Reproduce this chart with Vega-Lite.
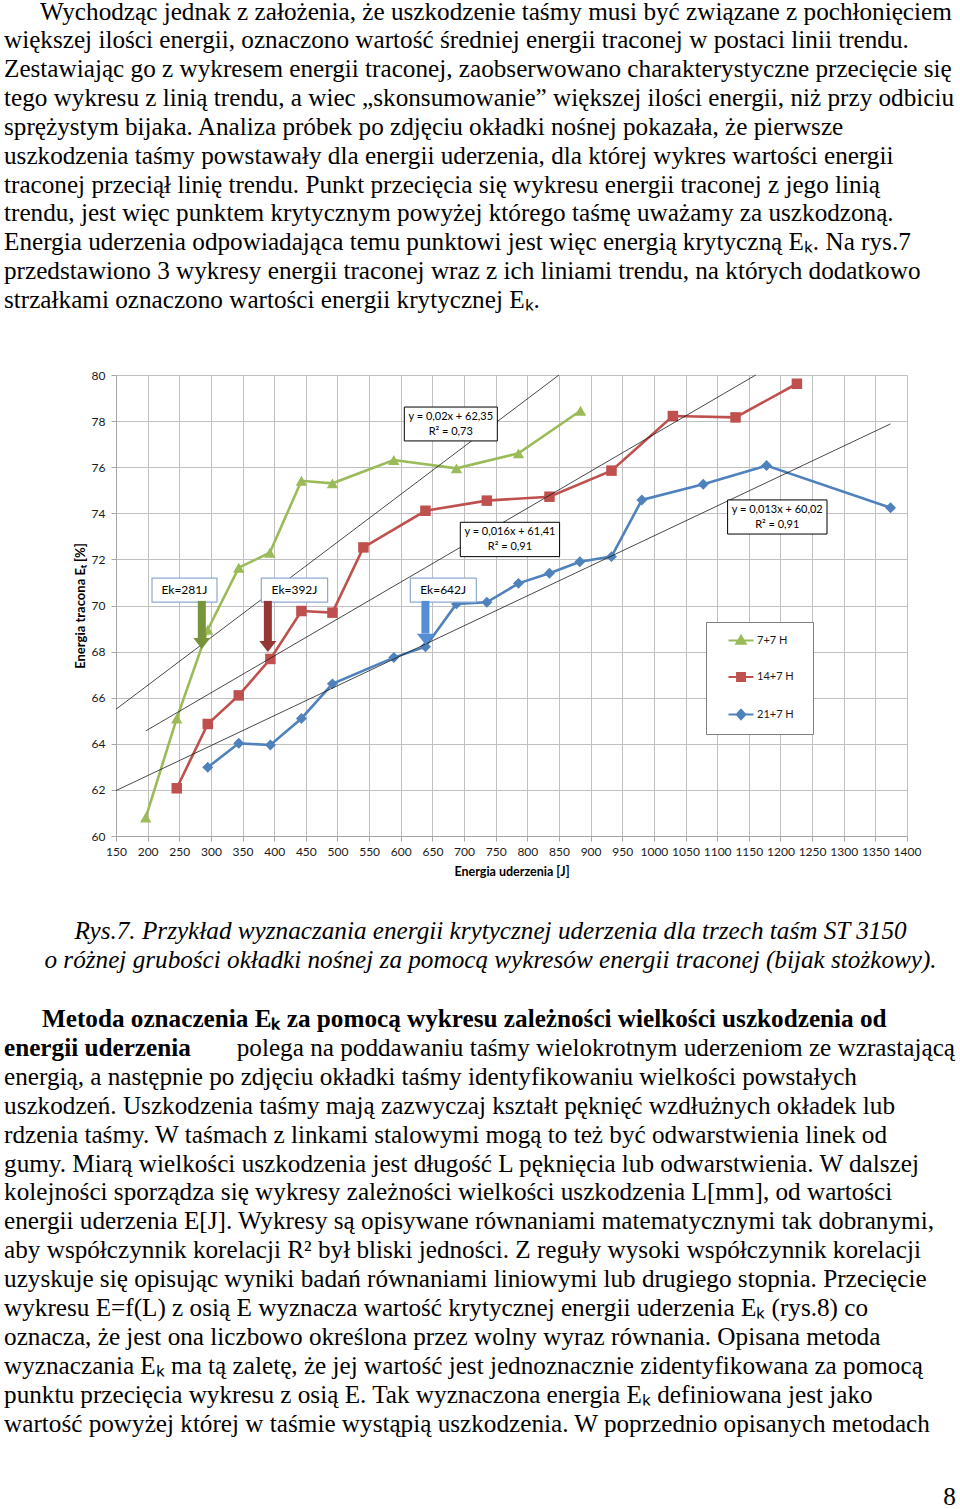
{
  "$schema": "https://vega.github.io/schema/vega-lite/v6.json",
  "width": 791,
  "height": 461,
  "autosize": {"type": "none"},
  "padding": {"left": 116, "top": 375, "right": 53, "bottom": 673},
  "background": "white",
  "config": {"view": {"stroke": null}, "axis": {"labelOverlap": false}},
  "datasets": {
    "series": [
      {"s": "7+7 H", "E": 197, "v": 60.8}, {"s": "7+7 H", "E": 246, "v": 65.1}, {"s": "7+7 H", "E": 295, "v": 68.95},
      {"s": "7+7 H", "E": 344, "v": 71.64}, {"s": "7+7 H", "E": 393, "v": 72.29}, {"s": "7+7 H", "E": 443, "v": 75.41},
      {"s": "7+7 H", "E": 492, "v": 75.3}, {"s": "7+7 H", "E": 589, "v": 76.31}, {"s": "7+7 H", "E": 688, "v": 75.95},
      {"s": "7+7 H", "E": 786, "v": 76.6}, {"s": "7+7 H", "E": 884, "v": 78.45},
      {"s": "14+7 H", "E": 246, "v": 62.07}, {"s": "14+7 H", "E": 295, "v": 64.86}, {"s": "14+7 H", "E": 344, "v": 66.1},
      {"s": "14+7 H", "E": 394, "v": 67.68}, {"s": "14+7 H", "E": 443, "v": 69.76}, {"s": "14+7 H", "E": 492, "v": 69.69},
      {"s": "14+7 H", "E": 541, "v": 72.52}, {"s": "14+7 H", "E": 639, "v": 74.11}, {"s": "14+7 H", "E": 736, "v": 74.55},
      {"s": "14+7 H", "E": 835, "v": 74.72}, {"s": "14+7 H", "E": 933, "v": 75.85}, {"s": "14+7 H", "E": 1030, "v": 78.22},
      {"s": "14+7 H", "E": 1129, "v": 78.16}, {"s": "14+7 H", "E": 1226, "v": 79.62},
      {"s": "21+7 H", "E": 295, "v": 62.98}, {"s": "21+7 H", "E": 344, "v": 64.02}, {"s": "21+7 H", "E": 394, "v": 63.95},
      {"s": "21+7 H", "E": 443, "v": 65.1}, {"s": "21+7 H", "E": 492, "v": 66.6}, {"s": "21+7 H", "E": 589, "v": 67.74},
      {"s": "21+7 H", "E": 639, "v": 68.21}, {"s": "21+7 H", "E": 688, "v": 70.07}, {"s": "21+7 H", "E": 736, "v": 70.14},
      {"s": "21+7 H", "E": 786, "v": 70.96}, {"s": "21+7 H", "E": 835, "v": 71.4}, {"s": "21+7 H", "E": 883, "v": 71.9},
      {"s": "21+7 H", "E": 933, "v": 72.12}, {"s": "21+7 H", "E": 981, "v": 74.58}, {"s": "21+7 H", "E": 1078, "v": 75.26},
      {"s": "21+7 H", "E": 1178, "v": 76.07}, {"s": "21+7 H", "E": 1374, "v": 74.24}
    ],
    "trends": [
      {"t": "g", "E": 150, "v": 65.5}, {"t": "g", "E": 850, "v": 80},
      {"t": "r", "E": 197, "v": 64.56}, {"t": "r", "E": 1161, "v": 80},
      {"t": "b", "E": 150, "v": 61.97}, {"t": "b", "E": 1374, "v": 77.88}
    ],
    "arrows": [
      {"s": "7+7 H", "E": 285.6, "top": 70.2, "neck": 68.59, "tip": 68.11},
      {"s": "14+7 H", "E": 390, "top": 70.2, "neck": 68.46, "tip": 67.98},
      {"s": "21+7 H", "E": 639, "top": 70.2, "neck": 68.78, "tip": 68.3}
    ],
    "eqboxes": [
      {"x1": 605.6, "x2": 752.6, "y1": 78.61, "y2": 77.14, "cx": 679, "cy": 78.18, "lbl": ["y = 0,02x + 62,35", "R² = 0,73"]},
      {"x1": 694.1, "x2": 851, "y1": 73.61, "y2": 72.12, "cx": 772.5, "cy": 73.19, "lbl": ["y = 0,016x + 61,41", "R² = 0,91"]},
      {"x1": 1116.5, "x2": 1273.6, "y1": 74.58, "y2": 73.1, "cx": 1195, "cy": 74.14, "lbl": ["y = 0,013x + 60,02", "R² = 0,91"]}
    ],
    "ekboxes": [
      {"x1": 206.9, "x2": 309.6, "y1": 71.19, "y2": 70.15, "cx": 258, "cy": 70.67, "lbl": "Ek=281J"},
      {"x1": 379.6, "x2": 484.4, "y1": 71.19, "y2": 70.15, "cx": 432, "cy": 70.67, "lbl": "Ek=392J"},
      {"x1": 615.1, "x2": 719.4, "y1": 71.19, "y2": 70.15, "cx": 667, "cy": 70.67, "lbl": "Ek=642J"}
    ],
    "p1": [
      {"line": 0, "indent": 1, "text": "Wychodząc jednak z założenia, że uszkodzenie taśmy musi być związane z pochłonięciem"},
      {"line": 1, "indent": 0, "text": "większej ilości energii, oznaczono wartość średniej energii traconej w postaci linii trendu."},
      {"line": 2, "indent": 0, "text": "Zestawiając go z wykresem energii traconej, zaobserwowano charakterystyczne przecięcie się"},
      {"line": 3, "indent": 0, "text": "tego wykresu z linią trendu, a wiec „skonsumowanie” większej ilości energii, niż przy odbiciu"},
      {"line": 4, "indent": 0, "text": "sprężystym bijaka. Analiza próbek po zdjęciu okładki nośnej pokazała, że pierwsze"},
      {"line": 5, "indent": 0, "text": "uszkodzenia taśmy powstawały dla energii uderzenia, dla której wykres wartości energii"},
      {"line": 6, "indent": 0, "text": "traconej przeciął linię trendu. Punkt przecięcia się wykresu energii traconej z jego linią"},
      {"line": 7, "indent": 0, "text": "trendu, jest więc punktem krytycznym powyżej którego taśmę uważamy za uszkodzoną."},
      {"line": 8, "indent": 0, "text": "Energia uderzenia odpowiadająca temu punktowi jest więc energią krytyczną Eₖ. Na rys.7"},
      {"line": 9, "indent": 0, "text": "przedstawiono 3 wykresy energii traconej wraz z ich liniami trendu, na których dodatkowo"},
      {"line": 10, "indent": 0, "text": "strzałkami oznaczono wartości energii krytycznej Eₖ."}
    ],
    "caption": [
      {"line": 0, "text": "Rys.7. Przykład wyznaczania energii krytycznej uderzenia dla trzech taśm ST 3150"},
      {"line": 1, "text": "o różnej grubości okładki nośnej za pomocą wykresów energii traconej (bijak stożkowy)."}
    ],
    "p2bold": [
      {"line": 0, "indent": 1, "text": "Metoda oznaczenia Eₖ za pomocą wykresu zależności wielkości uszkodzenia od"},
      {"line": 1, "indent": 0, "text": "energii uderzenia"}
    ],
    "p2right": [
      {"line": 1, "text": "polega na poddawaniu taśmy wielokrotnym uderzeniom ze wzrastającą"}
    ],
    "p2": [
      {"line": 2, "text": "energią, a następnie po zdjęciu okładki taśmy identyfikowaniu wielkości powstałych"},
      {"line": 3, "text": "uszkodzeń. Uszkodzenia taśmy mają zazwyczaj kształt pęknięć wzdłużnych okładek lub"},
      {"line": 4, "text": "rdzenia taśmy. W taśmach z linkami stalowymi mogą to też być odwarstwienia linek od"},
      {"line": 5, "text": "gumy. Miarą wielkości uszkodzenia jest długość L pęknięcia lub odwarstwienia. W dalszej"},
      {"line": 6, "text": "kolejności sporządza się wykresy zależności wielkości uszkodzenia L[mm], od wartości"},
      {"line": 7, "text": "energii uderzenia E[J]. Wykresy są opisywane równaniami matematycznymi tak dobranymi,"},
      {"line": 8, "text": "aby współczynnik korelacji R² był bliski jedności. Z reguły wysoki współczynnik korelacji"},
      {"line": 9, "text": "uzyskuje się opisując wyniki badań równaniami liniowymi lub drugiego stopnia. Przecięcie"},
      {"line": 10, "text": "wykresu E=f(L) z osią E wyznacza wartość krytycznej energii uderzenia Eₖ (rys.8) co"},
      {"line": 11, "text": "oznacza, że jest ona liczbowo określona przez wolny wyraz równania. Opisana metoda"},
      {"line": 12, "text": "wyznaczania Eₖ ma tą zaletę, że jej wartość jest jednoznacznie zidentyfikowana za pomocą"},
      {"line": 13, "text": "punktu przecięcia wykresu z osią E. Tak wyznaczona energia Eₖ definiowana jest jako"},
      {"line": 14, "text": "wartość powyżej której w taśmie wystąpią uszkodzenia. W poprzednio opisanych metodach"}
    ],
    "pagenum": [{"text": "8"}]
  },
  "layer": [
    {
      "layer": [
        {
          "data": {"name": "series"},
          "mark": {"type": "line", "strokeWidth": 2.6},
          "encoding": {
            "x": {"field": "E", "type": "quantitative",
              "scale": {"domain": [150, 1400], "nice": false, "zero": false},
              "axis": {"values": [150,200,250,300,350,400,450,500,550,600,650,700,750,800,850,900,950,1000,1050,1100,1150,1200,1250,1300,1350,1400],
                "tickCount": 40,
                "format": "d",
                "title": "Energia uderzenia [J]", "titleFont": "Lato", "titleFontWeight": "bold", "titleFontSize": 12.5, "titleColor": "#000000", "titlePadding": 8,
                "labelFont": "Lato", "labelFontSize": 12, "labelColor": "#1a1a1a", "labelOverlap": false, "labelFlush": false, "labelPadding": 5,
                "tickSize": 5, "tickColor": "#a6a6a6", "domainColor": "#a6a6a6", "grid": true, "gridColor": "#c0c0c0", "gridWidth": 1}},
            "y": {"field": "v", "type": "quantitative",
              "scale": {"domain": [60, 80], "nice": false, "zero": false},
              "axis": {"values": [60,62,64,66,68,70,72,74,76,78,80],
                "tickCount": 40,
                "format": "d",
                "title": "Energia tracona Eₜ [%]", "titleFont": "Lato", "titleFontWeight": "bold", "titleFontSize": 13, "titleColor": "#000000", "titlePadding": 4,
                "labelFont": "Lato", "labelFontSize": 12, "labelColor": "#1a1a1a", "labelPadding": 6, "labelOverlap": false,
                "tickSize": 5, "tickColor": "#a6a6a6", "domainColor": "#a6a6a6", "grid": true, "gridColor": "#c0c0c0", "gridWidth": 1}},
            "color": {"field": "s", "type": "nominal",
              "scale": {"domain": ["7+7 H", "14+7 H", "21+7 H"], "range": ["#9bbb59", "#c0504d", "#4f81bd"]},
              "legend": {"title": "\u00a0\u00a0", "titleOrient": "right", "titlePadding": 9, "titleFontSize": 11, "titleFont": "Lato",
                "orient": "none", "legendX": 590, "legendY": 247, "padding": 10,
                "fillColor": "white", "strokeColor": "#7f7f7f",
                "symbolSize": 196, "labelOffset": 24, "rowPadding": 19.5,
                "labelFont": "Lato", "labelFontSize": 11, "labelColor": "#1a1a1a",
                "encode": {"symbols": {"update": {
                  "shape": {"signal": "datum.value === '7+7 H' ? 'M0.57,0H4.14M2.36,-0.65L3.01,0.45L1.71,0.45Z' : datum.value === '14+7 H' ? 'M0.57,0H4.14M1.81,-0.55H2.91V0.55H1.81Z' : 'M0.57,0H4.14M2.36,-0.65L2.96,0L2.36,0.65L1.76,0Z'"},
                  "size": {"value": 196},
                  "fill": {"signal": "datum.value === '7+7 H' ? '#9bbb59' : datum.value === '14+7 H' ? '#c0504d' : '#4f81bd'"},
                  "stroke": {"signal": "datum.value === '7+7 H' ? '#9bbb59' : datum.value === '14+7 H' ? '#c0504d' : '#4f81bd'"},
                  "strokeWidth": {"value": 2.2},
                  "opacity": {"value": 1}
                }}}}}
          }
        },
        {
          "data": {"name": "series"},
          "transform": [{"filter": "datum.s === '7+7 H'"}],
          "mark": {"type": "point", "shape": "triangle-up", "filled": true, "opacity": 1, "size": 130},
          "encoding": {
            "x": {"field": "E", "type": "quantitative"},
            "y": {"field": "v", "type": "quantitative"},
            "color": {"field": "s", "type": "nominal"}
          }
        },
        {
          "data": {"name": "series"},
          "transform": [{"filter": "datum.s === '14+7 H'"}],
          "mark": {"type": "point", "shape": "square", "filled": true, "opacity": 1, "size": 110},
          "encoding": {
            "x": {"field": "E", "type": "quantitative"},
            "y": {"field": "v", "type": "quantitative"},
            "color": {"field": "s", "type": "nominal"}
          }
        },
        {
          "data": {"name": "series"},
          "transform": [{"filter": "datum.s === '21+7 H'"}],
          "mark": {"type": "point", "shape": "diamond", "filled": true, "opacity": 1, "size": 120},
          "encoding": {
            "x": {"field": "E", "type": "quantitative"},
            "y": {"field": "v", "type": "quantitative"},
            "color": {"field": "s", "type": "nominal"}
          }
        },
        {
          "data": {"name": "trends"},
          "mark": {"type": "line", "color": "#1a1a1a", "strokeWidth": 0.8},
          "encoding": {
            "x": {"field": "E", "type": "quantitative"},
            "y": {"field": "v", "type": "quantitative"},
            "detail": {"field": "t", "type": "nominal"}
          }
        },
        {
          "data": {"name": "eqboxes"},
          "mark": {"type": "rect", "fill": "white", "stroke": "#000000", "strokeWidth": 1},
          "encoding": {
            "x": {"field": "x1", "type": "quantitative"}, "x2": {"field": "x2"},
            "y": {"field": "y1", "type": "quantitative"}, "y2": {"field": "y2"}
          }
        },
        {
          "data": {"name": "eqboxes"},
          "mark": {"type": "text", "font": "Lato", "fontSize": 11, "lineHeight": 15, "color": "#000000", "align": "center", "baseline": "middle"},
          "encoding": {
            "x": {"field": "cx", "type": "quantitative"},
            "y": {"field": "cy", "type": "quantitative"},
            "text": {"field": "lbl", "type": "nominal"}
          }
        },
        {
          "data": {"name": "ekboxes"},
          "mark": {"type": "rect", "fill": "white", "stroke": "#8eaad0", "strokeWidth": 1.2},
          "encoding": {
            "x": {"field": "x1", "type": "quantitative"}, "x2": {"field": "x2"},
            "y": {"field": "y1", "type": "quantitative"}, "y2": {"field": "y2"}
          }
        },
        {
          "data": {"name": "ekboxes"},
          "mark": {"type": "text", "font": "Lato", "fontSize": 12, "color": "#000000", "align": "center", "baseline": "middle"},
          "encoding": {
            "x": {"field": "cx", "type": "quantitative"},
            "y": {"field": "cy", "type": "quantitative"},
            "text": {"field": "lbl", "type": "nominal"}
          }
        },
        {
          "data": {"name": "arrows"},
          "mark": {"type": "rule", "strokeWidth": 8, "strokeCap": "butt"},
          "encoding": {
            "x": {"field": "E", "type": "quantitative"},
            "y": {"field": "top", "type": "quantitative"}, "y2": {"field": "neck"},
            "stroke": {"field": "s", "type": "nominal", "scale": {"domain": ["7+7 H", "14+7 H", "21+7 H"], "range": ["#77933c", "#953735", "#558ed5"]}, "legend": null}
          }
        },
        {
          "data": {"name": "arrows"},
          "mark": {"type": "point", "shape": "M-1,-1.3L1,-1.3L0,0Z", "filled": true, "opacity": 1, "size": 289},
          "encoding": {
            "x": {"field": "E", "type": "quantitative"},
            "y": {"field": "tip", "type": "quantitative"},
            "fill": {"field": "s", "type": "nominal", "scale": {"domain": ["7+7 H", "14+7 H", "21+7 H"], "range": ["#77933c", "#953735", "#558ed5"]}, "legend": null}
          }
        }
      ]
    },
    {
      "data": {"name": "p1"},
      "mark": {"type": "text", "align": "left", "baseline": "alphabetic", "font": "Liberation Serif, Times New Roman, serif", "fontSize": 25.2, "color": "#000000"},
      "encoding": {
        "x": {"field": "indent", "type": "quantitative", "scale": {"domain": [0, 1], "range": [-112, -76], "nice": false, "zero": false}, "axis": null},
        "y": {"field": "line", "type": "quantitative", "scale": {"domain": [0, 10], "range": [-355.5, -67], "nice": false, "zero": false}, "axis": null},
        "text": {"field": "text", "type": "nominal"}
      }
    },
    {
      "data": {"name": "caption"},
      "mark": {"type": "text", "align": "center", "baseline": "alphabetic", "font": "Liberation Serif, Times New Roman, serif", "fontSize": 25.2, "fontStyle": "italic", "color": "#000000"},
      "encoding": {
        "x": {"datum": 0.511, "type": "quantitative", "scale": {"domain": [0, 1], "range": [-116, 844], "nice": false, "zero": false}, "axis": null},
        "y": {"field": "line", "type": "quantitative", "scale": {"domain": [0, 1], "range": [564, 592.5], "nice": false, "zero": false}, "axis": null},
        "text": {"field": "text", "type": "nominal"}
      }
    },
    {
      "data": {"name": "p2bold"},
      "mark": {"type": "text", "align": "left", "baseline": "alphabetic", "font": "Liberation Serif, Times New Roman, serif", "fontSize": 25.2, "fontWeight": "bold", "color": "#000000"},
      "encoding": {
        "x": {"field": "indent", "type": "quantitative", "scale": {"domain": [0, 1], "range": [-112, -74], "nice": false, "zero": false}, "axis": null},
        "y": {"field": "line", "type": "quantitative", "scale": {"domain": [0, 14], "range": [652, 1056.6], "nice": false, "zero": false}, "axis": null},
        "text": {"field": "text", "type": "nominal"}
      }
    },
    {
      "data": {"name": "p2right"},
      "mark": {"type": "text", "align": "right", "baseline": "alphabetic", "font": "Liberation Serif, Times New Roman, serif", "fontSize": 25.2, "color": "#000000"},
      "encoding": {
        "x": {"datum": 0.9948, "type": "quantitative", "scale": {"domain": [0, 1], "range": [-116, 844], "nice": false, "zero": false}, "axis": null},
        "y": {"field": "line", "type": "quantitative", "scale": {"domain": [0, 14], "range": [652, 1056.6], "nice": false, "zero": false}, "axis": null},
        "text": {"field": "text", "type": "nominal"}
      }
    },
    {
      "data": {"name": "p2"},
      "mark": {"type": "text", "align": "left", "baseline": "alphabetic", "font": "Liberation Serif, Times New Roman, serif", "fontSize": 25.2, "color": "#000000"},
      "encoding": {
        "x": {"datum": 0.0042, "type": "quantitative", "scale": {"domain": [0, 1], "range": [-116, 844], "nice": false, "zero": false}, "axis": null},
        "y": {"field": "line", "type": "quantitative", "scale": {"domain": [0, 14], "range": [652, 1056.6], "nice": false, "zero": false}, "axis": null},
        "text": {"field": "text", "type": "nominal"}
      }
    },
    {
      "data": {"name": "pagenum"},
      "mark": {"type": "text", "align": "right", "baseline": "alphabetic", "font": "Liberation Serif, Times New Roman, serif", "fontSize": 25.2, "color": "#000000"},
      "encoding": {
        "x": {"datum": 0.9958, "type": "quantitative", "scale": {"domain": [0, 1], "range": [-116, 844], "nice": false, "zero": false}, "axis": null},
        "y": {"datum": 0.9973, "type": "quantitative", "scale": {"domain": [0, 1], "range": [-375, 1134], "nice": false, "zero": false}, "axis": null},
        "text": {"field": "text", "type": "nominal"}
      }
    }
  ],
  "resolve": {"scale": {"x": "independent", "y": "independent"}}
}
